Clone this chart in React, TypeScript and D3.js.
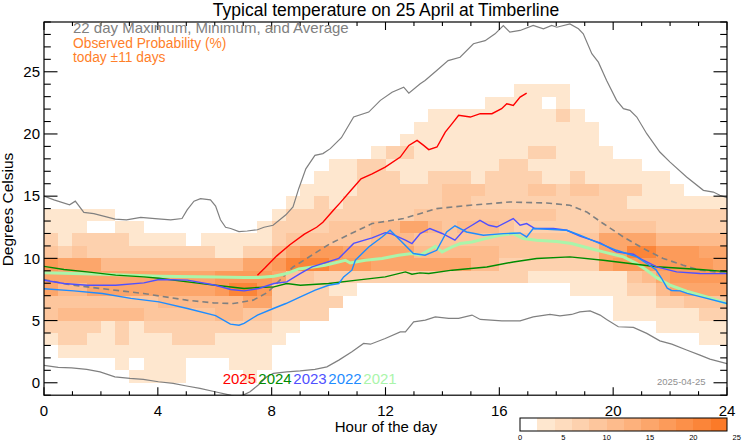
import React from "react";
import * as d3 from "d3";

const W = 742;
const H = 445;

const xMajorTicks = [0, 4, 8, 12, 16, 20, 24];
const yMajorTicks = [0, 5, 10, 15, 20, 25];
const colorbarTicks = [0, 5, 10, 15, 20, 25];

const yearLabels = ["2025", "2024", "2023", "2022", "2021"];
const yearColors = ["#ff0000", "#008c00", "#5050ff", "#1e8cff", "#aaf5aa"];

// Observed probability grid: one string per 1-degree bin (from 23..24 down to 0..1),
// 48 half-hour columns; each digit is a read shade level.
const heatTopBin = 23;
const heatRows = [
  "00000000 00000000 00000000 00000000 01111000 00000000",
  "00000000 00000000 00000000 00000001 11101000 00000000",
  "00000000 00000000 00000000 00011111 11112100 00000000",
  "00000000 00000000 00000000 00111111 11111110 00000000",
  "00000000 00000000 00000000 01111111 11111110 00000000",
  "00000000 00000000 00000001 22111111 11221111 00000000",
  "00000000 00000000 00001122 11111111 22111111 11000000",
  "00000000 00000000 00011122 21122212 22211211 11110000",
  "00000000 00000000 00111122 22223332 22332332 22111000",
  "00000000 00000000 01121222 22223322 22222222 21111111",
  "11111000 00000000 12222222 22333333 33332222 22222222",
  "11100110 00000001 22223334 45543444 32222223 33322222",
  "21222211 11011111 23333334 44333333 33333335 55544444",
  "32322222 22221122 45666555 55444444 33333335 57766655",
  "65554444 44444455 67776665 55555544 22222225 66666665",
  "55555555 55556666 53322222 22222222 22111111 13456666",
  "54455555 55556776 22221100 00000000 00000111 12245555",
  "33333333 44444455 22222000 00000000 00000000 11122333",
  "34444443 33334433 22220000 00000000 00000000 11111122",
  "22221212 22222222 11000000 00000000 00000000 00011111",
  "12211211 12221111 10000000 00000000 00000000 00000011",
  "01111111 11111111 00000000 00000000 00000000 00000000",
  "00000101 11000111 00000000 00000000 00000000 00000000",
  "00000011 11000010 00000000 00000000 00000000 00000000",
];
const digitPercent = [0, 3, 6, 8, 11, 14, 17, 20, 22, 24];

const maxLine: [number, number][] = [
  [0, 15.0], [0.35, 14.7], [0.9, 14.3], [1.1, 14.6], [1.4, 13.7], [1.75, 13.6], [2.5, 13.15],
  [2.9, 13.1], [3.4, 13.3], [3.9, 13.2], [4.45, 13.1], [4.85, 13.2], [5.03, 13.9], [5.27, 14.6],
  [5.5, 14.8], [5.85, 14.7], [6.03, 14.2], [6.2, 13.1], [6.38, 12.5], [6.56, 12.4], [6.85, 12.15],
  [7.14, 12.2], [7.5, 12.3], [7.73, 12.5], [8.05, 12.66], [8.5, 13.5], [8.75, 14.13], [8.95, 15.6],
  [9.2, 17.2], [9.52, 18.28], [9.8, 18.42], [10.06, 18.82], [10.45, 19.7], [10.88, 21.36],
  [11.41, 21.76], [11.82, 22.7], [12.23, 23.36], [12.64, 23.76], [12.82, 23.28], [13.22, 24.04],
  [13.39, 24.3], [13.8, 25.1], [14.2, 25.9], [14.62, 26.17], [15.09, 27.25], [15.5, 27.5],
  [15.85, 28.05], [16.14, 28.72], [16.37, 28.18], [16.73, 28.32], [17.19, 28.72], [17.55, 28.45],
  [17.84, 28.72], [18.02, 28.58], [18.48, 28.85], [18.78, 28.45], [18.95, 28.05], [19.25, 26.45],
  [19.48, 25.77], [19.77, 24.3], [20.12, 22.7], [20.36, 22.03], [20.59, 21.9], [20.83, 21.36],
  [21.18, 20.02], [21.64, 18.55], [22.0, 17.74], [22.58, 16.54], [23.17, 15.47], [23.52, 15.33],
  [23.75, 15.07], [24.0, 14.88],
];

const minLine: [number, number][] = [
  [0, 1.4], [0.5, 1.24], [0.97, 1.2], [1.5, 1.08], [1.97, 0.88], [2.49, 0.48], [3.02, 0.35],
  [3.49, 0.27], [4.02, 0.08], [4.54, -0.05], [5.01, -0.26], [5.48, -0.45], [6.01, -0.72],
  [6.54, -0.99], [6.75, -1.15], [7.0, -0.99], [7.24, -0.72], [7.53, -0.18], [7.83, 0.48],
  [8.06, 0.75], [8.53, 0.88], [9.0, 0.96], [9.52, 1.08], [9.94, 1.28], [10.36, 1.82], [10.82, 2.49],
  [11.23, 3.16], [11.47, 3.1], [11.99, 3.56], [12.52, 4.09], [12.7, 4.09], [12.99, 4.9], [13.4, 5.03],
  [13.75, 5.3], [14.22, 5.17], [14.57, 5.17], [15.04, 5.44], [15.33, 5.09], [16.09, 4.98],
  [16.73, 4.98], [17.19, 5.3], [17.78, 5.49], [18.13, 5.38], [18.54, 5.49], [18.83, 5.7],
  [19.19, 5.78], [19.54, 5.44], [19.77, 5.09], [20.18, 4.5], [20.71, 4.45], [21.18, 3.97],
  [21.64, 3.37], [22.06, 3.11], [22.58, 2.63], [23.05, 2.22], [23.4, 1.9], [24.0, 1.54],
];

const avgLine: [number, number][] = [
  [0, 8.3], [0.8, 7.92], [1.97, 7.58], [3.49, 7.18], [5.01, 6.64], [5.95, 6.42], [6.65, 6.37],
  [7.35, 6.64], [7.83, 7.23], [8.08, 7.76], [8.75, 9.31], [8.95, 9.59], [10.06, 11.19],
  [11.53, 12.8], [12.63, 13.2], [13.8, 14.0], [14.97, 14.27], [16.37, 14.53], [17.66, 14.45],
  [18.48, 14.27], [19.07, 13.73], [19.65, 12.8], [20.36, 11.72], [21.06, 10.79], [21.76, 9.99],
  [22.46, 9.45], [23.05, 9.05], [24.0, 8.81],
];

const year2025: [number, number][] = [
  [7.5, 8.65], [7.75, 9.2], [8.18, 10.2], [8.64, 11.1], [9.15, 11.95], [9.58, 12.5], [9.8, 12.9],
  [10.2, 13.95], [10.42, 14.5], [10.78, 15.45], [11.14, 16.4], [11.53, 16.8], [11.99, 17.34],
  [12.52, 18.14], [12.82, 19.08], [13.11, 19.48], [13.34, 19.08], [13.52, 18.74], [13.81, 18.95],
  [14.1, 20.15], [14.34, 20.83], [14.57, 21.5], [14.98, 21.36], [15.33, 21.63], [15.74, 21.63],
  [16.08, 22.03], [16.26, 22.43], [16.49, 22.3], [16.73, 22.96], [16.96, 23.28],
];

const year2024: [number, number][] = [
  [0, 9.36], [0.7, 9.1], [1.52, 8.91], [2.52, 8.65], [3.51, 8.51], [4.04, 8.4], [5.04, 8.11],
  [6.03, 7.84], [7.03, 7.58], [7.53, 7.66], [8.08, 7.71], [8.53, 7.98], [9.01, 7.84], [10.0, 7.98],
  [11.0, 8.25], [11.99, 8.51], [12.7, 8.91], [12.93, 8.73], [13.21, 8.83], [13.52, 8.78],
  [14.34, 9.05], [15.56, 9.31], [16.49, 9.71], [17.31, 9.99], [18.48, 10.12], [19.65, 9.85],
  [20.59, 9.59], [21.53, 9.33], [23.05, 9.1], [24, 8.93],
];

const year2023: [number, number][] = [
  [0, 8.24], [0.7, 7.98], [1.52, 7.84], [2.52, 7.84], [3.51, 8.03], [4.04, 8.3], [5.04, 8.25],
  [6.03, 7.84], [6.56, 7.5], [7.03, 7.39], [7.55, 7.58], [8.08, 7.98], [8.53, 8.11], [9.0, 8.78],
  [9.42, 9.31], [10.36, 10.0], [10.88, 11.2], [11.53, 11.65], [11.99, 12.07], [12.17, 12.0],
  [12.7, 11.46], [12.93, 11.19], [13.22, 11.99], [13.56, 12.4], [13.99, 12.0], [14.44, 11.46],
  [14.75, 12.26], [15.04, 12.66], [15.32, 13.06], [15.63, 12.66], [15.91, 12.52], [16.49, 13.2],
  [16.73, 12.66], [16.96, 12.8], [17.25, 12.4], [17.9, 12.4], [18.37, 12.26], [18.83, 11.78],
  [19.54, 11.24], [20.12, 10.52], [20.71, 10.33], [21.06, 9.85], [21.53, 9.31], [22.23, 8.91],
  [23.05, 8.78], [24, 8.77],
];

const year2022: [number, number][] = [
  [0, 7.56], [1.05, 7.39], [2.05, 7.18], [3.05, 6.78], [4.04, 6.5], [5.04, 5.97], [6.03, 5.4],
  [6.55, 4.71], [6.85, 4.63], [7.03, 4.77], [7.5, 5.44], [8.06, 5.97], [8.5, 6.37], [9.01, 6.9],
  [9.53, 7.44], [10.0, 7.84], [10.36, 7.98], [10.53, 8.51], [10.82, 9.05], [10.94, 9.85],
  [11.41, 10.92], [11.88, 11.72], [12.16, 12.26], [12.63, 11.19], [12.98, 10.39], [13.39, 10.25],
  [13.8, 10.65], [14.15, 12.12], [14.44, 12.62], [14.85, 12.12], [15.44, 11.86], [16.14, 11.99],
  [16.73, 12.04], [16.96, 11.72], [17.19, 12.4], [18.37, 12.26], [18.83, 11.86], [19.54, 11.19],
  [20.12, 10.65], [20.83, 10.12], [21.18, 9.59], [21.5, 9.1], [21.7, 8.4], [21.9, 7.6],
  [22.05, 7.42], [22.35, 7.39], [22.6, 7.18], [23.05, 6.92], [24, 6.37],
];

const year2021: [number, number][] = [
  [0, 8.85], [2.05, 8.73], [4.04, 8.57], [6.03, 8.51], [7.03, 8.46], [7.53, 8.46], [8.08, 8.57],
  [8.53, 8.78], [8.95, 9.15], [9.88, 9.45], [10.59, 9.85], [10.76, 9.63], [11.29, 9.85],
  [11.88, 9.99], [12.46, 10.25], [12.93, 10.39], [13.21, 10.25], [13.52, 10.65], [13.75, 10.97],
  [13.99, 10.52], [14.34, 10.92], [14.63, 11.19], [15.04, 11.32], [15.51, 11.59], [16.02, 11.86],
  [16.49, 11.99], [16.84, 11.59], [17.31, 11.46], [18.02, 11.36], [18.54, 11.19], [19.19, 10.79],
  [19.65, 10.52], [20.36, 10.12], [20.83, 9.59], [21.18, 9.05], [21.53, 8.45], [22.0, 7.84],
  [22.58, 7.36], [23.29, 6.9], [24, 6.37],
];

const yearSeries = [year2025, year2024, year2023, year2022, year2021];

const FONT = "'Liberation Sans', Arial, Helvetica, sans-serif";

export default function App() {
  const x = d3.scaleLinear().domain([0, 24]).range([44, 727]);
  const y = d3.scaleLinear().domain([-1, 29]).range([395.2, 22]);
  const cb = d3.scaleLinear().domain([0, 25]).range([520, 736.7]);

  const shade = d3.interpolateRgb("#fee7cf", "#fb7a28");
  const levelColor = (k: number) => (k <= 0 ? "#ffffff" : shade((k - 1) / 10));
  const pctLevel = (p: number) => Math.min(11, Math.floor(p / 2));

  const cells: React.ReactNode[] = [];
  heatRows.forEach((rowStr, i) => {
    const t = heatTopBin - i;
    rowStr.replace(/ /g, "").split("").forEach((ch, j) => {
      const p = digitPercent[+ch];
      const lv = pctLevel(p);
      if (lv > 0) {
        cells.push(
          <rect
            key={`c${i}-${j}`}
            x={x(j * 0.5)}
            y={y(t + 1)}
            width={x(0.5) - x(0)}
            height={y(t) - y(t + 1)}
            fill={levelColor(lv)}
          />
        );
      }
    });
  });

  const line = d3
    .line<[number, number]>()
    .x((d) => x(d[0]))
    .y((d) => y(d[1]));

  const left = x(0), right = x(24), top = y(29), bottom = y(-1);

  const ticks: React.ReactNode[] = [];
  d3.range(0, 25, 1).forEach((h) => {
    const major = h % 4 === 0;
    const len = major ? 8 : 4;
    ticks.push(<line key={`bx${h}`} x1={x(h)} x2={x(h)} y1={bottom} y2={bottom - len} />);
    ticks.push(<line key={`tx${h}`} x1={x(h)} x2={x(h)} y1={top} y2={top + len} />);
  });
  d3.range(-1, 30, 1).forEach((t) => {
    const major = t % 5 === 0 && t >= 0;
    const len = major ? 13.5 : 6.8;
    ticks.push(<line key={`ly${t}`} x1={left} x2={left + len} y1={y(t)} y2={y(t)} />);
    ticks.push(<line key={`ry${t}`} x1={right} x2={right - len} y1={y(t)} y2={y(t)} />);
  });

  const cbSegments: React.ReactNode[] = [];
  for (let k = 1; k <= 11; k++) {
    const x0 = cb(2 * k);
    const x1 = Math.min(727, cb(2 * k + 2));
    cbSegments.push(
      <rect key={`cb${k}`} x={x0} y={418} width={x1 - x0} height={13} fill={levelColor(k)} />
    );
  }

  const yearX = [222.7, 258.3, 293.3, 328.3, 363.3];

  return (
    <svg
      width={W}
      height={H}
      viewBox={`0 0 ${W} ${H}`}
      style={{ position: "absolute", left: 0, top: 0, background: "#fff" }}
      fontFamily={FONT}
    >
      <defs>
        <clipPath id="plotclip">
          <rect x={left} y={top} width={right - left} height={bottom - top} />
        </clipPath>
      </defs>
      <rect x={0} y={0} width={W} height={H} fill="#fff" />
      <g shapeRendering="crispEdges">{cells}</g>

      <g clipPath="url(#plotclip)" fill="none">
        <path d={line(maxLine) || ""} stroke="#808080" strokeWidth={1.2} />
        <path d={line(minLine) || ""} stroke="#808080" strokeWidth={1.2} />
        <path d={line(avgLine) || ""} stroke="#808080" strokeWidth={1.6} strokeDasharray="6,4" />
        <path d={line(year2021) || ""} stroke={yearColors[4]} strokeWidth={3} />
        {yearSeries.slice(0, 4).map((s, i) => (
          <path key={`ys${i}`} d={line(s) || ""} stroke={yearColors[i]} strokeWidth={1.4} />
        ))}
      </g>

      <g stroke="#000" strokeWidth={1.1}>{ticks}</g>
      <rect x={left} y={top} width={right - left} height={bottom - top} fill="none" stroke="#000" strokeWidth={1.2} />

      <text x={386} y={16} fontSize={17.5} textAnchor="middle" fill="#000">
        Typical temperature on 25 April at Timberline
      </text>
      <text x={73} y={33.3} fontSize={15} fill="#808080">22 day Maximum, Minimum, and Average</text>
      <text x={73} y={48.3} fontSize={13.8} fill="#ff7f2a">Observed Probability (%)</text>
      <text x={73} y={62} fontSize={13.8} fill="#ff7f2a">today ±11 days</text>

      {yMajorTicks.map((t) => (
        <text key={`yl${t}`} x={40} y={y(t) + 5.3} fontSize={15} textAnchor="end" fill="#000">
          {t}
        </text>
      ))}
      {xMajorTicks.map((h) => (
        <text key={`xl${h}`} x={x(h)} y={415.5} fontSize={15} textAnchor="middle" fill="#000">
          {h}
        </text>
      ))}

      <text x={386} y={431.5} fontSize={15} textAnchor="middle" fill="#000">Hour of the day</text>
      <text
        transform={`translate(13, 209.5) rotate(-90)`}
        fontSize={15.5}
        textAnchor="middle"
        fill="#000"
      >
        Degrees Celsius
      </text>

      {yearLabels.map((lab, i) => (
        <text key={`yr${lab}`} x={yearX[i]} y={383.5} fontSize={15} fill={yearColors[i]}>
          {lab}
        </text>
      ))}
      <text x={657} y={385} fontSize={9.5} fill="#909090">2025-04-25</text>

      <g shapeRendering="crispEdges">{cbSegments}</g>
      <rect x={520} y={418} width={207} height={13} fill="none" stroke="#000" strokeWidth={1} />
      {colorbarTicks.map((v) => (
        <text key={`cbl${v}`} x={cb(v)} y={440} fontSize={7.5} textAnchor="middle" fill="#000">
          {v}
        </text>
      ))}
    </svg>
  );
}
